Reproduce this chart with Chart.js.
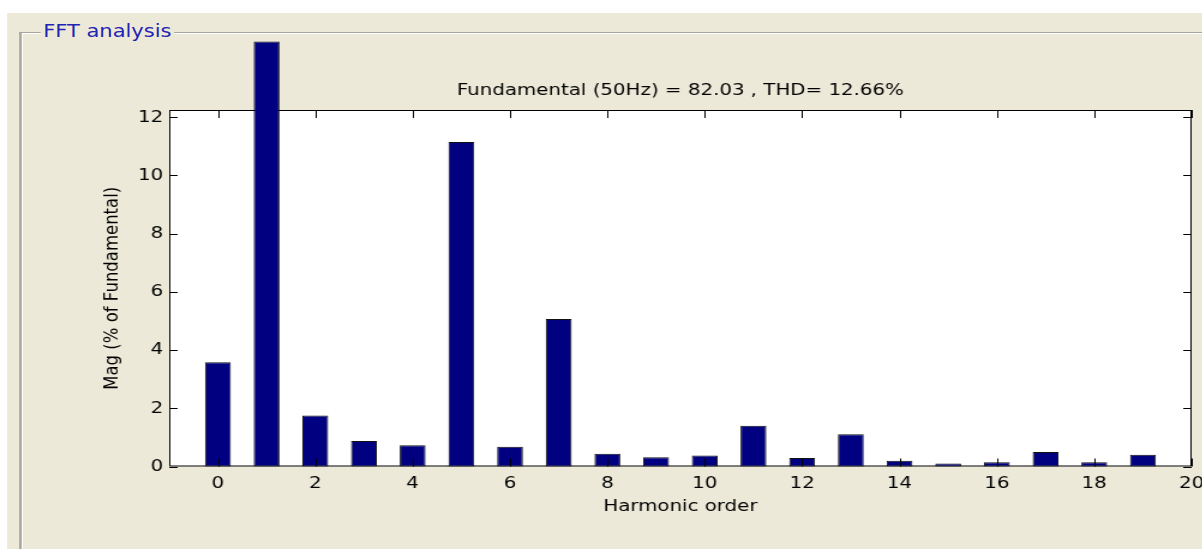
<!doctype html>
<html lang="en">
<head>
<meta charset="utf-8">
<title>FFT analysis</title>
<script src="https://cdn.jsdelivr.net/npm/chart.js@4.4.1/dist/chart.umd.min.js"></script>
<style>
    html, body { margin: 0; padding: 0; background: #fff; overflow: hidden; }
    /* the reference screenshot is stretched sideways, so the whole stage is too */
    #stage { position: absolute; left: 0; top: 0; width: 1002px; height: 549px; transform: scaleX(1.2); transform-origin: 0 0; }
    #bg { position: absolute; left: 6px; top: 13px; right: 0; bottom: 0; background: #ECE9D8; }
    #panel { position: absolute; left: 16px; top: 32px; width: 1100px; height: 600px;
             border-left: 2px solid #A7A69E; border-top: 1px solid #A7A69E; box-shadow: inset 1px 1px 0 #fff; }
    #panel span { position: absolute; left: 16px; top: -12px; padding: 0 2px; background: #ECE9D8;
                  color: #2424B4; font: 17.5px "DejaVu Sans", sans-serif; line-height: 20px; }
    #wrap { position: absolute; left: 0; top: 0; width: 1002px; height: 549px; }
</style>
</head>
<body>
<div id="stage">
    <div id="bg"></div>
    <div id="panel"><span>FFT analysis</span></div>
    <div id="wrap"><canvas id="fftChart"></canvas></div>
</div>
<script>
    var harmonics = [0, 1, 2, 3, 4, 5, 6, 7, 8, 9, 10, 11, 12, 13, 14, 15, 16, 17, 18, 19];
    var magnitudes = [3.58, 14.6, 1.75, 0.88, 0.73, 11.15, 0.68, 5.07, 0.44, 0.32,
                      0.38, 1.40, 0.29, 1.11, 0.20, 0.10, 0.15, 0.50, 0.15, 0.40];
    var chartTitle = 'Fundamental (50Hz) = 82.03 , THD= 12.66%';
    var xLabel = 'Harmonic order';
    var yLabel = 'Mag (% of Fundamental)';

    var font = { family: '"DejaVu Sans", sans-serif', size: 16.5 };

    var points = harmonics.map(function (h, i) { return { x: h, y: magnitudes[i] }; });

    // white plot box + axis frame, inward ticks on all four sides, title above
    var matlabAxes = {
        id: 'matlabAxes',
        beforeDatasetsDraw: function (chart) {
            var a = chart.chartArea, ctx = chart.ctx;
            ctx.save();
            ctx.fillStyle = '#fff';
            ctx.fillRect(a.left, a.top, a.right - a.left, a.bottom - a.top);
            ctx.strokeStyle = '#000';
            ctx.lineWidth = 1;
            ctx.strokeRect(a.left + 0.5, a.top + 0.5, a.right - a.left - 1, a.bottom - a.top - 1);
            ctx.font = font.size + 'px ' + font.family;
            ctx.fillStyle = '#000';
            ctx.textAlign = 'center';
            ctx.textBaseline = 'middle';
            ctx.fillText(chartTitle, (a.left + a.right) / 2, a.top - 19);
            ctx.restore();
        },
        afterDatasetsDraw: function (chart) {
            var a = chart.chartArea, ctx = chart.ctx;
            var xs = chart.scales.x, ys = chart.scales.y;
            ctx.save();
            ctx.strokeStyle = '#000';
            ctx.lineWidth = 1;
            ctx.beginPath();
            xs.ticks.forEach(function (t) {
                var px = Math.round(xs.getPixelForValue(t.value)) + 0.5;
                ctx.moveTo(px, a.bottom); ctx.lineTo(px, a.bottom - 8);
                ctx.moveTo(px, a.top); ctx.lineTo(px, a.top + 8);
            });
            ys.ticks.forEach(function (t) {
                var py = Math.round(ys.getPixelForValue(t.value)) + 0.5;
                ctx.moveTo(a.left, py); ctx.lineTo(a.left + 7, py);
                ctx.moveTo(a.right, py); ctx.lineTo(a.right - 7, py);
            });
            ctx.stroke();
            ctx.restore();
        }
    };

    new Chart(document.getElementById('fftChart'), {
        type: 'bar',
        data: {
            datasets: [{
                data: points,
                backgroundColor: '#000080',
                borderColor: '#111',
                borderWidth: 1,
                borderSkipped: false,
                barPercentage: 0.53,
                categoryPercentage: 1,
                clip: false
            }]
        },
        options: {
            responsive: true,
            maintainAspectRatio: false,
            animation: false,
            events: [],
            layout: { padding: { left: 0, top: 110, right: 9, bottom: 0 } },
            plugins: { legend: { display: false }, tooltip: { enabled: false } },
            scales: {
                x: {
                    type: 'linear',
                    min: -1,
                    max: 20,
                    offset: false,
                    grid: { display: false, drawTicks: false, offset: false },
                    border: { display: false },
                    ticks: { stepSize: 2, includeBounds: false, padding: 7, color: '#000', font: font, maxRotation: 0 },
                    title: { display: true, text: xLabel, color: '#000', font: font, padding: { top: 0, bottom: 32 } },
                    afterFit: function (s) { s.height = 82.5; s.paddingLeft = 0; s.paddingRight = 0; }
                },
                y: {
                    min: 0,
                    max: 12.25,
                    grid: { display: false, drawTicks: false },
                    border: { display: false },
                    ticks: { stepSize: 2, includeBounds: false, padding: 5, color: '#000', font: font },
                    title: { display: true, text: yLabel, color: '#000', font: font, padding: { top: 84, bottom: 0 } },
                    afterFit: function (s) { s.width = 141; s.paddingTop = 0; s.paddingBottom = 0; }
                }
            }
        },
        plugins: [matlabAxes]
    });
</script>
</body>
</html>
